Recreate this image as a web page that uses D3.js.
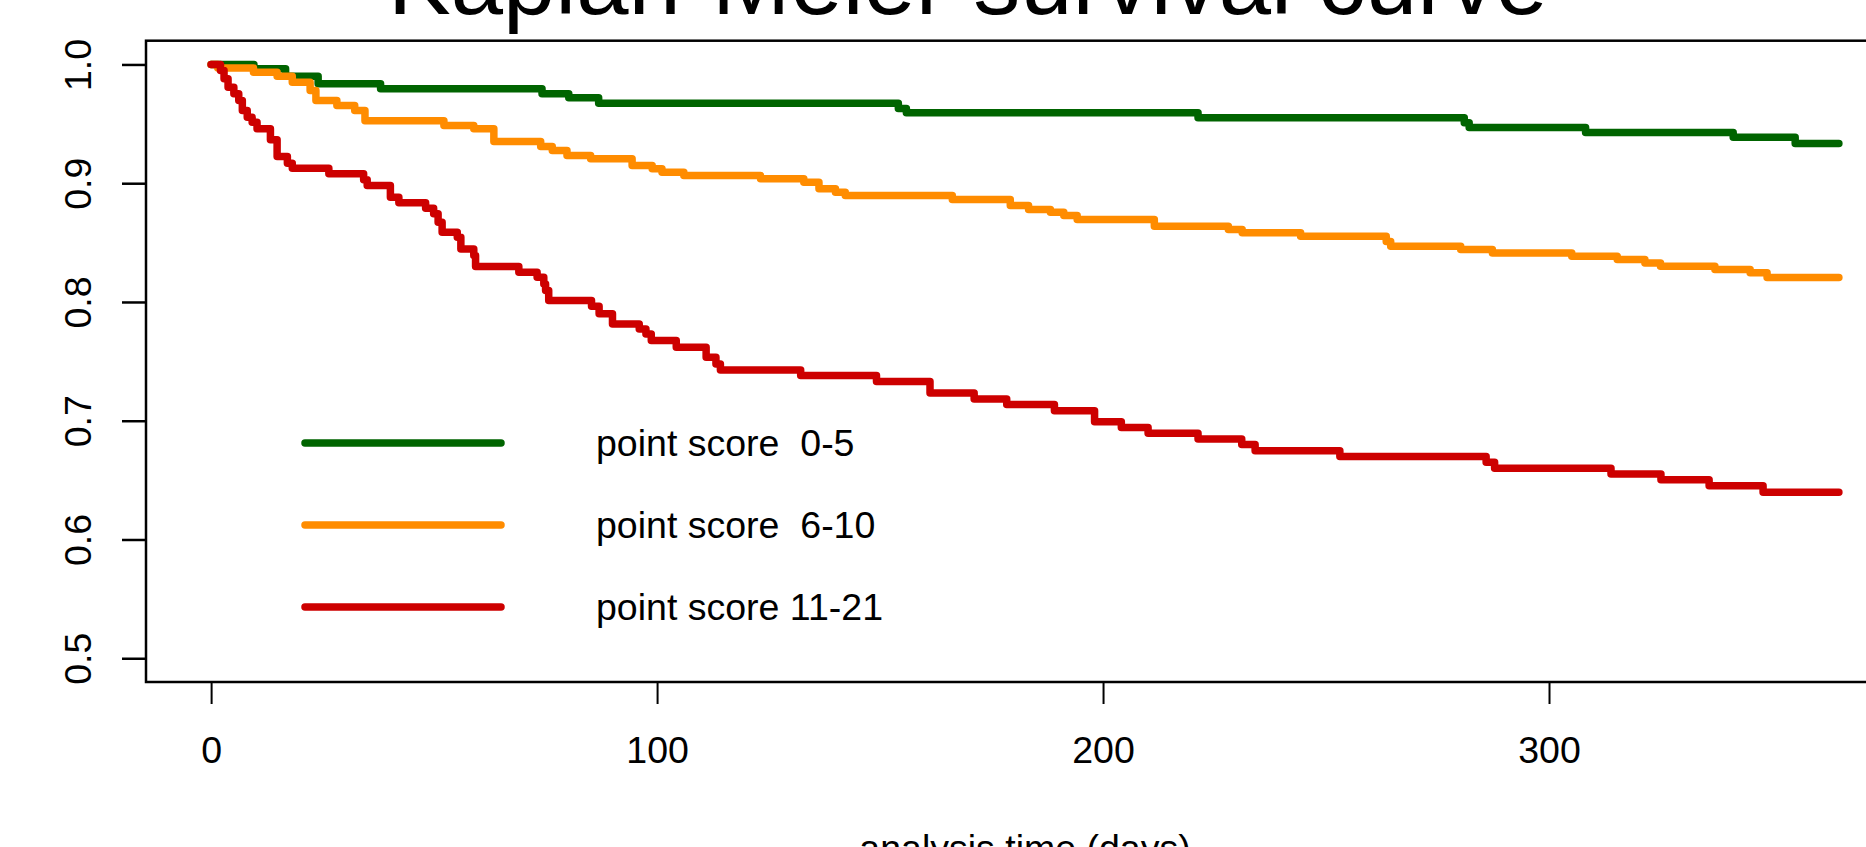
<!DOCTYPE html>
<html>
<head>
<meta charset="utf-8">
<script src="https://cdn.jsdelivr.net/npm/d3@7"></script>
<style>
  html, body { margin: 0; padding: 0; background: #fff; overflow: hidden; }
  svg { display: block; font-family: "Liberation Sans", Arial, Helvetica, sans-serif; }
</style>
</head>
<body>
<svg id="chart" width="1866" height="847"></svg>
<script>
// ---- data ----
const groups = ["point score  0-5", "point score  6-10", "point score 11-21"];
const colors = ["#006400", "#FF8C00", "#CD0000"];

const timeGreen = [0, 9.6, 16.7, 24.0, 38.0, 74.2, 80.2, 86.9, 154.1, 155.9, 221.3, 281.0, 282.1, 308.2, 341.3, 355.2, 365];
const survGreen = [1.0, 0.9964, 0.9900, 0.9837, 0.9795, 0.9753, 0.9720, 0.9674, 0.9630, 0.9593, 0.9551, 0.9510, 0.9469, 0.9427, 0.9388, 0.9334, 0.9334];

const timeOrange = [0, 1.5, 9.5, 14.8, 18.2, 22.2, 23.5, 28.2, 32.2, 34.5, 52.2, 58.9, 63.4, 73.9, 76.5, 79.8, 85.1, 94.4, 98.9, 101.1, 106.0, 123.2, 132.9, 136.3, 140.0, 142.2, 166.2, 179.2, 183.3, 188.2, 191.2, 194.2, 211.5, 228.1, 231.2, 244.3, 263.5, 264.5, 280.2, 287.3, 305.1, 315.3, 321.5, 325.0, 337.2, 345.1, 348.9, 365];
const survOrange = [1.0, 0.9970, 0.9935, 0.9900, 0.9850, 0.9780, 0.9697, 0.9655, 0.9612, 0.9525, 0.9486, 0.9458, 0.9351, 0.9309, 0.9275, 0.9233, 0.9205, 0.9149, 0.9121, 0.9093, 0.9065, 0.9037, 0.9008, 0.8953, 0.8924, 0.8896, 0.8863, 0.8812, 0.8778, 0.8756, 0.8728, 0.8694, 0.8638, 0.8610, 0.8582, 0.8554, 0.8510, 0.8469, 0.8441, 0.8413, 0.8385, 0.8357, 0.8329, 0.8300, 0.8273, 0.8245, 0.8206, 0.8206];

const timeRed = [0, 2.1, 2.9, 3.8, 5.1, 6.2, 7.0, 8.1, 9.2, 10.3, 13.3, 14.8, 17.1, 18.2, 26.4, 34.2, 35.0, 40.2, 42.1, 48.1, 49.9, 50.9, 51.8, 55.2, 56.0, 58.9, 59.3, 69.0, 73.1, 74.6, 75.0, 75.7, 85.3, 87.0, 90.0, 96.0, 97.5, 98.7, 104.3, 111.0, 113.2, 114.2, 132.2, 149.2, 161.2, 171.1, 178.4, 189.1, 198.1, 204.1, 210.1, 221.3, 231.1, 234.1, 253.1, 285.9, 287.8, 313.9, 325.1, 335.9, 348.0, 365];
const survRed = [1.0, 0.9949, 0.9880, 0.9809, 0.9753, 0.9697, 0.9612, 0.9556, 0.9514, 0.9458, 0.9366, 0.9225, 0.9169, 0.9126, 0.9079, 0.9029, 0.8980, 0.8882, 0.8835, 0.8789, 0.8742, 0.8672, 0.8587, 0.8545, 0.8447, 0.8391, 0.8298, 0.8250, 0.8208, 0.8152, 0.8096, 0.8012, 0.7964, 0.7900, 0.7815, 0.7773, 0.7731, 0.7675, 0.7618, 0.7535, 0.7478, 0.7428, 0.7380, 0.7330, 0.7234, 0.7184, 0.7136, 0.7085, 0.6992, 0.6944, 0.6894, 0.6847, 0.6799, 0.6748, 0.6698, 0.6650, 0.6599, 0.6552, 0.6504, 0.6453, 0.6397, 0.6397];

const xTicks = [0, 100, 200, 300];
const yTicks = [0.5, 0.6, 0.7, 0.8, 0.9, 1.0];
const yTickLabels = ["0.5", "0.6", "0.7", "0.8", "0.9", "1.0"];
const titleText = "Kaplan-Meier survival curve";
const xLabel = "analysis time (days)";

// ---- layout ----
const svg = d3.select("#chart");
const box = { left: 146, right: 1904, top: 40.7, bottom: 682 };
const x = d3.scaleLinear().domain([-14.6, 379.6]).range([box.left, box.right]);
const y = d3.scaleLinear().domain([0.48, 1.02]).range([box.bottom, box.top]);
const FS = 37.5;
const LW = 7.5;

// curves
const series = [
  { t: timeGreen, s: survGreen },
  { t: timeOrange, s: survOrange },
  { t: timeRed, s: survRed }
];
const line = d3.line().x(d => x(d[0])).y(d => y(d[1])).curve(d3.curveStepAfter);
series.forEach((g, i) => {
  const pts = g.t.map((t, j) => [t, g.s[j]]);
  svg.append("path")
    .attr("d", line(pts))
    .attr("fill", "none")
    .attr("stroke", colors[i])
    .attr("stroke-width", LW)
    .attr("stroke-linecap", "round")
    .attr("stroke-linejoin", "round");
});

// frame
svg.append("rect")
  .attr("x", box.left).attr("y", box.top)
  .attr("width", box.right - box.left).attr("height", box.bottom - box.top)
  .attr("fill", "none").attr("stroke", "#000").attr("stroke-width", 2.5);

// x axis
const xAxis = d3.axisBottom(x).tickValues(xTicks).tickFormat(d3.format("d"))
  .tickSizeInner(22).tickSizeOuter(0).tickPadding(32);
const gx = svg.append("g").attr("transform", `translate(0,${box.bottom})`).call(xAxis);
gx.select(".domain").remove();
gx.selectAll(".tick line").attr("stroke", "#000").attr("stroke-width", 2);
gx.selectAll(".tick text").attr("font-size", FS).attr("fill", "#000")
  .style("font-family", '"Liberation Sans", Arial, sans-serif');

// y axis
const yAxis = d3.axisLeft(y).tickValues(yTicks).tickFormat((d, i) => yTickLabels[i])
  .tickSizeInner(24).tickSizeOuter(0);
const gy = svg.append("g").attr("transform", `translate(${box.left},0)`).call(yAxis);
gy.select(".domain").remove();
gy.selectAll(".tick line").attr("stroke", "#000").attr("stroke-width", 2.5);
gy.selectAll(".tick text")
  .attr("x", null).attr("dy", null)
  .attr("transform", "translate(-55,0) rotate(-90)")
  .attr("text-anchor", "middle")
  .attr("font-size", FS).attr("fill", "#000")
  .style("font-family", '"Liberation Sans", Arial, sans-serif');

// title (mostly cut off at the top in the reference)
svg.append("text")
  .attr("x", 968).attr("y", 14)
  .attr("text-anchor", "middle")
  .attr("font-size", 94)
  .attr("fill", "#000")
  .text(titleText);

// x label
svg.append("text")
  .attr("x", (box.left + box.right) / 2).attr("y", 861)
  .attr("text-anchor", "middle")
  .attr("font-size", FS)
  .attr("fill", "#000")
  .text(xLabel);

// legend
const legY = [443, 525, 607];
groups.forEach((name, i) => {
  svg.append("line")
    .attr("x1", 305).attr("x2", 501)
    .attr("y1", legY[i]).attr("y2", legY[i])
    .attr("stroke", colors[i]).attr("stroke-width", LW)
    .attr("stroke-linecap", "round");
  svg.append("text")
    .attr("x", 596).attr("y", legY[i] + 13)
    .attr("font-size", FS)
    .attr("fill", "#000")
    .attr("xml:space", "preserve")
    .style("white-space", "pre")
    .text(name);
});
</script>
</body>
</html>
